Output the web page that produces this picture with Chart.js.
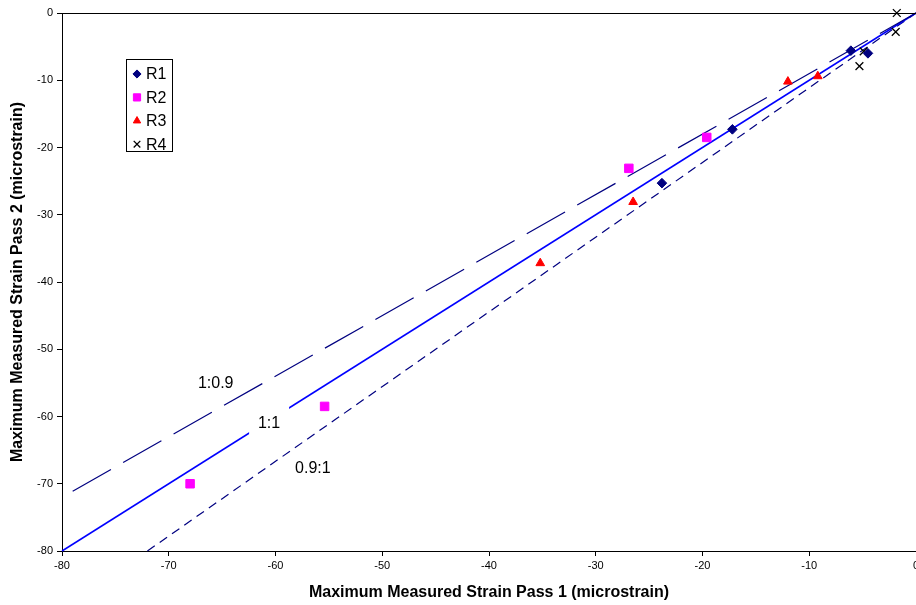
<!DOCTYPE html>
<html>
<head>
<meta charset="utf-8">
<script src="https://cdn.jsdelivr.net/npm/chart.js@4/dist/chart.umd.min.js"></script>
<style>
html, body { margin: 0; padding: 0; background: #fff; }
</style>
</head>
<body>
<canvas id="strainChart" width="916" height="605"></canvas>
<script>
const FONT = "'Liberation Sans', Arial, sans-serif";

// measured points (pass 1 on x, pass 2 on y)
const r1X = [-23.8, -17.2, -6.1, -4.5];
const r1Y = [-25.3, -17.3, -5.6, -6.0];
const r2X = [-68.0, -55.4, -26.9, -19.6];
const r2Y = [-70.0, -58.5, -23.1, -18.5];
const r3X = [-35.2, -26.5, -12.0, -9.2];
const r3Y = [-37.2, -28.1, -10.2, -9.4];
const r4X = [-1.8, -1.9, -4.9, -5.3];
const r4Y = [0.0, -2.8, -5.7, -7.9];

// reference lines
const lineOneX = [-80, 0];
const lineOneY = [-80, 0];
const lineHighX = [-79, 0];      // 1:0.9
const lineHighY = [-71.1, 0];
const lineLowX = [-72, 0];       // 0.9:1
const lineLowY = [-80, 0];

const lineNames = ["1:0.9", "1:1", "0.9:1"];
const seriesNames = ["R1", "R2", "R3", "R4"];
const axisTicks = [-80, -70, -60, -50, -40, -30, -20, -10, 0];

function pts(xs, ys) {
    return xs.map((x, i) => ({x: x, y: ys[i]}));
}

const markerSets = [
    {label: seriesNames[0], data: pts(r1X, r1Y), pointStyle: 'rectRot', pointRadius: 4.8, backgroundColor: '#000080', borderColor: '#000080', borderWidth: 1},
    {label: seriesNames[1], data: pts(r2X, r2Y), pointStyle: 'rect', pointRadius: 6, backgroundColor: '#FF00FF', borderColor: '#FF00FF', borderWidth: 1},
    {label: seriesNames[2], data: pts(r3X, r3Y), pointStyle: 'triangle', pointRadius: 5, backgroundColor: '#FF0000', borderColor: '#FF0000', borderWidth: 1},
    {label: seriesNames[3], data: pts(r4X, r4Y), pointStyle: 'crossRot', pointRadius: 5.5, backgroundColor: '#000000', borderColor: '#000000', borderWidth: 1.3}
];
markerSets.forEach(d => { d.showLine = false; d.order = 1; d.clip = false; d.pointHoverRadius = d.pointRadius; });

const lineSets = [
    {label: lineNames[0], data: pts(lineHighX, lineHighY), borderColor: '#000080', borderWidth: 1.2, borderDash: [44, 14]},
    {label: lineNames[1], data: pts(lineOneX, lineOneY), borderColor: '#0000FF', borderWidth: 1.5, borderDash: []},
    {label: lineNames[2], data: pts(lineLowX, lineLowY), borderColor: '#000080', borderWidth: 1.2, borderDash: [9, 6]}
];
lineSets.forEach(d => { d.showLine = true; d.pointRadius = 0; d.order = 2; d.clip = false; d.fill = false; });

// label anchor positions for the three reference lines (data units)
const labelPos = [
    {x: -65.6, y: -55.1, box: false},
    {x: -60.6, y: -61.0, box: true},
    {x: -56.5, y: -67.7, box: false}
];

const extras = {
    id: 'extras',
    afterDatasetsDraw(chart) {
        const ctx = chart.ctx;
        const xs = chart.scales.x, ys = chart.scales.y;
        ctx.save();
        // horizontal axis line at y = 0
        ctx.strokeStyle = '#000';
        ctx.lineWidth = 1;
        ctx.beginPath();
        const y0 = Math.round(ys.getPixelForValue(0)) + 0.5;
        ctx.moveTo(chart.chartArea.left, y0);
        ctx.lineTo(chart.chartArea.right, y0);
        ctx.stroke();

        ctx.font = "16px " + FONT;
        ctx.textAlign = 'center';
        ctx.textBaseline = 'middle';
        lineNames.forEach((t, i) => {
            const px = xs.getPixelForValue(labelPos[i].x);
            const py = ys.getPixelForValue(labelPos[i].y);
            if (labelPos[i].box) {
                ctx.fillStyle = '#fff';
                ctx.fillRect(px - 20, py - 17, 40, 32);
            }
            ctx.fillStyle = '#000';
            ctx.fillText(t, px, py);
        });
        ctx.restore();
    },
    afterDraw(chart) {
        const ctx = chart.ctx;
        ctx.save();
        // legend box
        const bx = 126.5, by = 59.5, bw = 46, bh = 92;
        ctx.fillStyle = '#fff';
        ctx.fillRect(bx, by, bw, bh);
        ctx.strokeStyle = '#000';
        ctx.lineWidth = 1;
        ctx.strokeRect(bx, by, bw, bh);
        ctx.font = "16px " + FONT;
        ctx.textBaseline = 'middle';
        ctx.textAlign = 'left';
        markerSets.forEach((d, i) => {
            const cy = 74 + i * 23.4;
            ctx.fillStyle = d.backgroundColor;
            ctx.strokeStyle = d.borderColor;
            ctx.lineWidth = d.borderWidth;
            Chart.helpers.drawPoint(ctx, {pointStyle: d.pointStyle, radius: d.pointRadius * 0.85, borderWidth: d.borderWidth, rotation: 0}, 137, cy);
            ctx.fillStyle = '#000';
            ctx.fillText(d.label, 146, cy + 1);
        });
        ctx.restore();
    }
};

function axis(titleText, isX) {
    return {
        type: 'linear',
        position: isX ? 'bottom' : 'left',
        min: -80,
        max: 0,
        afterBuildTicks: (scale) => { scale.ticks = axisTicks.map(v => ({value: v})); },
        ticks: {
            color: '#000',
            font: {family: FONT, size: 11},
            padding: isX ? 3 : 4,
            maxRotation: 0,
            autoSkip: false
        },
        grid: {drawOnChartArea: false, drawTicks: true, tickLength: 5, color: '#000', tickWidth: 1},
        border: {display: true, color: '#000', width: 1},
        title: {
            display: true,
            text: titleText,
            color: '#000',
            font: {family: FONT, size: 16, weight: 'bold'},
            padding: isX ? {top: 4, bottom: 3} : {top: 8, bottom: 4}
        },
        afterFit: (scale) => {
            if (isX) {
                scale.height = 54;
                scale.paddingLeft = 0;
                scale.paddingRight = 0;
            } else {
                scale.width = 62;
                scale.paddingTop = 0;
                scale.paddingBottom = 0;
            }
        }
    };
}

new Chart(document.getElementById('strainChart'), {
    type: 'scatter',
    data: {datasets: markerSets.concat(lineSets)},
    options: {
        responsive: false,
        animation: false,
        layout: {autoPadding: false, padding: {top: 13, right: 0, bottom: 0, left: 0}},
        plugins: {legend: {display: false}, tooltip: {enabled: false}},
        scales: {
            x: axis('Maximum Measured Strain Pass 1 (microstrain)', true),
            y: axis('Maximum Measured Strain Pass 2 (microstrain)', false)
        }
    },
    plugins: [extras]
});
</script>
</body>
</html>
